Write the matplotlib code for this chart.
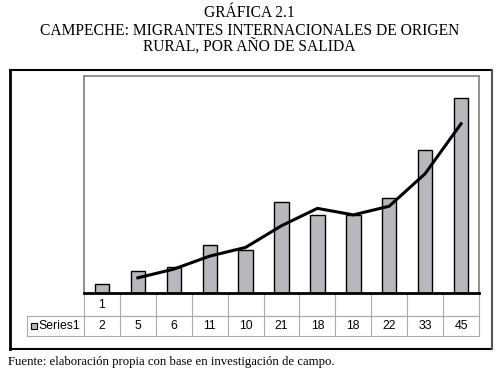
import numpy as np
import matplotlib.pyplot as plt
from matplotlib.patches import Rectangle
from matplotlib.lines import Line2D

# datos
anios = ["1", "", "", "", "", "", "", "", "", "", ""]
serie1 = [2, 5, 6, 11, 10, 21, 18, 18, 22, 33, 45]
# linea de tendencia (media movil de 2 periodos)
tendencia_x = [1, 2, 3, 4, 5, 6, 7, 8, 9, 10]
tendencia_y = [3.5, 5.5, 8.5, 10.5, 15.5, 19.5, 18, 20, 27.5, 39]

W, H = 499, 369
fig = plt.figure(figsize=(W / 100, H / 100), dpi=100)
fig.patch.set_facecolor("white")

serif = ["Liberation Serif", "DejaVu Serif"]
sans = ["Liberation Sans", "DejaVu Sans"]

# titulos
fig.text(0.5, 1 - 13 / H, "GRÁFICA 2.1", ha="center", va="center", fontsize=11.2, family=serif)
fig.text(0.5, 1 - 31 / H, "CAMPECHE: MIGRANTES INTERNACIONALES DE ORIGEN", ha="center", va="center",
         fontsize=11.2, family=serif)
fig.text(0.5, 1 - 48 / H, "RURAL, POR AÑO DE SALIDA", ha="center", va="center", fontsize=11.2, family=serif)
fig.text(8 / W, 1 - 362 / H, "Fuente: elaboración propia con base en investigación de campo.",
         ha="left", va="center", fontsize=9.2, family=serif)

# marco exterior
def px_line(x0, y0, x1, y1, color, lw):
    fig.add_artist(Line2D([x0 / W, x1 / W], [1 - y0 / H, 1 - y1 / H], color=color, lw=lw,
                          transform=fig.transFigure, solid_capstyle="projecting"))

px_line(10, 70, 492, 70, "black", 1.5)
px_line(10, 70, 10, 349, "black", 2)
px_line(10, 349, 492, 349, "black", 1.5)
px_line(492, 70, 492, 349, "#555555", 1.5)

# area de la grafica
left, right, top, base = 84, 479, 76, 293
ax = fig.add_axes([left / W, 1 - base / H, (right - left) / W, (base - top) / H])
x = np.arange(len(serie1))
ax.bar(x, serie1, width=0.4, color="#b8b8bc", edgecolor="black", linewidth=1, zorder=2)
ax.plot(tendencia_x, tendencia_y, color="black", lw=2.2, zorder=3)
ax.set_xlim(-0.5, len(serie1) - 0.5)
ax.set_ylim(0, 50)
ax.set_xticks([])
ax.set_yticks([])
for s in ["left", "top", "right"]:
    ax.spines[s].set_color("#888888")
    ax.spines[s].set_linewidth(1.3)
ax.spines["bottom"].set_color("black")
ax.spines["bottom"].set_linewidth(2)

# tabla de datos
tr = ax.get_xaxis_transform()
r1 = -(316 - base) / (base - top)
r2 = -(336 - base) / (base - top)
gris = "#aaaaaa"
lab_x = -0.5 - (left - 27) / ((right - left) / len(serie1))
n = len(serie1)
ax.add_line(Line2D([-0.5, n - 0.5], [r1, r1], transform=tr, color=gris, lw=0.8, clip_on=False))
ax.add_line(Line2D([lab_x, n - 0.5], [r1, r1], transform=tr, color=gris, lw=0.8, clip_on=False))
ax.add_line(Line2D([lab_x, n - 0.5], [r2, r2], transform=tr, color=gris, lw=0.8, clip_on=False))
ax.add_line(Line2D([lab_x, lab_x], [r1, r2], transform=tr, color=gris, lw=0.8, clip_on=False))
for i in range(n + 1):
    xx = i - 0.5
    ax.add_line(Line2D([xx, xx], [0, r2], transform=tr, color=gris, lw=0.8, clip_on=False))
for i in range(n):
    ax.text(i, (r1) / 2, anios[i], transform=tr, ha="center", va="center", fontsize=8.8, family=sans)
    ax.text(i, (r1 + r2) / 2, str(serie1[i]), transform=tr, ha="center", va="center", fontsize=8.8,
            family=sans)
# leyenda en la tabla
ax.add_patch(Rectangle((lab_x + 0.12, (r1 + r2) / 2 - 0.012), 0.17, 0.024, transform=tr,
                       facecolor="#b8b8bc", edgecolor="black", lw=0.8, clip_on=False))
ax.text(lab_x + 0.32, (r1 + r2) / 2, "Series1", transform=tr, ha="left", va="center", fontsize=8.8,
        family=sans)

fig.savefig("out.png", dpi=100)
